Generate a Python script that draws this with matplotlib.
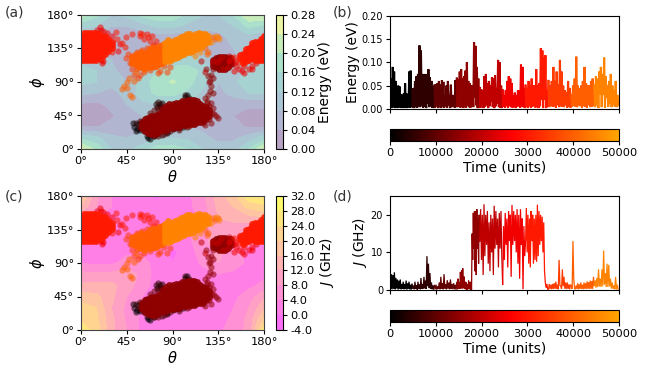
import numpy as np
import matplotlib
matplotlib.use("Agg")
import matplotlib.pyplot as plt
from matplotlib.colors import LinearSegmentedColormap, Normalize, to_rgb
from matplotlib.cm import ScalarMappable

W, H = 667, 377
theta_grid = [0, 15, 30, 45, 60, 75, 90, 105, 120, 135, 150, 165, 180]
phi_grid = [0, 15, 30, 45, 60, 75, 90, 105, 120, 135, 150, 165, 180]
energy_grid = [
    [.25, .19, .12, .11, .14, .18, .18, .16, .12, .10, .10, .16, .24],
    [.15, .13, .09, .08, .09, .11, .12, .11, .09, .07, .07, .10, .14],
    [.04, .038, .05, .06, .07, .08, .09, .08, .07, .05, .05, .035, .035],
    [.03, .025, .035, .06, .08, .09, .09, .09, .07, .05, .04, .02, .02],
    [.035, .03, .05, .08, .11, .12, .13, .11, .09, .06, .06, .05, .05],
    [.09, .08, .07, .09, .14, .17, .17, .15, .11, .07, .09, .12, .12],
    [.13, .12, .09, .08, .14, .18, .205, .18, .13, .08, .11, .15, .15],
    [.13, .12, .09, .06, .10, .16, .18, .18, .15, .08, .09, .13, .14],
    [.11, .10, .08, .05, .07, .11, .13, .14, .12, .07, .07, .10, .11],
    [.08, .07, .07, .05, .05, .06, .07, .07, .06, .06, .08, .09, .09],
    [.08, .07, .05, .05, .05, .05, .05, .05, .06, .07, .09, .10, .09],
    [.13, .12, .08, .08, .10, .13, .13, .11, .09, .09, .12, .17, .15],
    [.22, .17, .12, .13, .17, .19, .19, .15, .12, .12, .16, .24, .24],
]
j_grid = [
    [27, 22, 13, 8, 3, 2, 2, 2, 2, 3, 6, 9, 26],
    [23, 21, 13, 7, 3, 1, 1, 1, 1, 2, 5, 9, 20],
    [22, 20, 12, 7, 3, 1, 1, 1, 1, 2, 4, 8, 15],
    [18, 17, 13, 8, 4, 1, 1, 1, 1, 1, 3, 6, 11],
    [13, 13, 13, 10, 6, 2, 1, 1, 1, 2, 3, 3, 5],
    [9, 9, 9, 10, 7, 2, 1, 1, 2, 4, 3, 2, 3],
    [4, 3, 3, 6, 6, 2, 0, 1, 5, 8, 6, 3, 3],
    [2, 2, 2, 3, 3, 2, -1, 2, 6, 9, 6, 3, 2],
    [3, 2, 2, 2, 2, 2, 2, 3, 7, 10, 7, 5, 5],
    [3, 3, 3, 3, 3, 3, 3, 3, 6, 11, 10, 9, 9],
    [6, 4, 3, 2, 2, 2, 2, 2, 5, 12, 13, 14, 15],
    [15, 8, 4, 2, 2, 2, 2, 3, 6, 13, 16, 21, 23],
    [21, 9, 4, 2, 1, -1, 2, 3, 7, 14, 19, 27, 27],
]
energy_levels = [0, .04, .08, .12, .16, .20, .24, .28]
j_levels = [-4, 0, 4, 8, 12, 16, 20, 24, 28, 32]

seg_edges = [0, 4800, 9700, 14600, 19600, 24600, 29600, 34600, 39600, 44600, 50000]
seg_color_times = [0, 5000, 10000, 15000, 20000, 25000, 30000, 35000, 40000, 45000]

points_0 = [(51,35),(52,30),(55,27),(58,25),(56,33),(60,30),(63,28),(66,15),(68,14),(65,18),(72,17),(60,35),(54,24),
            (78,60),(75,57),(104,73),(108,66),(102,70),(90,27),(100,30),(96,28),(85,23)]
points_1 = [(54,35),(58,38),(62,36),(66,32),(70,40),(74,60),(78,57),(80,62),(102,72),(106,68),(110,66),
            (75,20),(80,19),(85,22),(92,28),(62,24),(68,20),(58,28),(76,63)]
points_2 = [(58,30),(62,33),(66,38),(70,42),(74,45),(68,48),(72,52),(76,54),(80,56),(64,42),(72,18),(76,17),(82,20),
            (88,24),(96,26),(104,30),(112,33)]
points_3 = [(126,58),(130,55),(122,32),(128,35),(135,42),(131,47),(126,40),(120,35),(106,31),(124,64),(128,62),
            (133,44),(129,49),(122,68),(127,78),(125,72),(130,75),(128,84),(126,90),(130,95),(128,100),(125,98),
            (123,108),(130,108),(127,92),(124,62)]
points_4 = [(130,118),(136,119),(145,110),(140,107),(150,115),(139,124),(146,125),(134,117),(118,118),(122,104)]
points_5 = [(19,164),(20,160),(16,160),(22,158),(21,115),(22,118),(20,120),(26,156),(30,152),(160,102),(150,105),
            (165,108),(155,108),(152,112),(160,112),(168,112),(152,118),(158,105),(146,118),(168,108),(172,116),(38,141),
            (36,132)]
points_6 = [(34,157),(40,142),(43,137),(44,150),(50,155),(60,155),(65,155),(70,152),(74,145),(62,148),(68,145),
            (66,150),(58,152),(72,140),(150,123),(155,117),(35,148),(30,130),(58,156)]
points_7 = [(44,122),(46,128),(50,125),(55,130),(60,133),(65,136),(70,138),(55,108),(58,100),(62,104),(52,100),
            (50,108),(56,95),(78,105),(85,103),(72,110),(82,112),(88,110),(76,102),(48,115),(68,106)]
points_8 = [(40,80),(42,85),(45,82),(45,90),(47,95),(52,92),(48,72),(50,70),(54,103),(130,150),(135,150),(132,148),
            (125,130),(124,128),(122,135)]
points_9 = [(133,152),(136,148),(128,144),(112,125),(117,130)]

core_3 = [(60,[28,32,36]), (63,[24,28,32,36,40]), (66,[22,26,30,34,38,42]), (69,[20,24,28,32,36,40,44]),
          (72,[20,24,28,32,36,40,44]), (75,[22,26,30,34,38,42,46]), (78,[24,28,32,36,40,44,48]),
          (81,[26,30,34,38,42,46,50,54]), (84,[26,30,34,38,42,46,50,54,58]), (87,[28,32,36,40,44,48,52,56,60]),
          (90,[28,32,36,40,44,48,52,56,60]), (93,[30,34,38,42,46,50,54,58,62]), (96,[30,34,38,42,46,50,54,58,62]),
          (99,[32,36,40,44,48,52,56,60,64]), (102,[32,36,40,44,48,52,56,60,64]), (105,[34,38,42,46,50,54,58,62,66]),
          (108,[34,38,42,46,50,54,58,62,66]), (111,[34,38,42,46,50,54,58,62,66]), (114,[36,40,44,48,52,56,60,64]),
          (117,[36,40,44,48,52,56,60]), (120,[38,42,46,50,54,58]), (123,[40,44,48,52,56]), (126,[44,48,52]),
          (130,[112,116,120]), (133,[110,114,118,122]), (136,[108,112,116,120,124]), (139,[108,112,116,120,124]),
          (142,[108,112,116,120,124]), (145,[110,114,118,122]), (148,[114,118,122])]
core_6 = [(0,[120,124,128,132,136,140,144,148,152]), (3,[120,124,128,132,136,140,144,148,152,156]),
          (6,[120,124,128,132,136,140,144,148,152,156]), (9,[120,124,128,132,136,140,144,148,152,156]),
          (12,[120,124,128,132,136,140,144,148,152,156]), (15,[120,124,128,132,136,140,144,148,152,156]),
          (18,[122,126,130,134,138,142,146,150,154]), (21,[124,128,132,136,140,144,148,152]),
          (24,[128,132,136,140,144,148,152]), (27,[132,136,140,144,148]), (30,[136,140,144]),
          (180,[120,124,128,132,136,140,144,148,152]), (177,[120,124,128,132,136,140,144,148]),
          (174,[120,124,128,132,136,140,144]), (171,[120,124,128,132,136,140,144]), (168,[122,126,130,134,138,142]),
          (165,[120,124,128,132,136]), (162,[118,122,126,130,134]), (159,[116,120,124,128]), (156,[122,126])]
core_8 = [(50,[116,120,124]), (53,[114,118,122,126]), (56,[112,116,120,124,128]), (59,[110,114,118,122,126,130]),
          (62,[108,112,116,120,124,128]), (65,[110,114,118,122,126,130]), (68,[110,114,118,122,126,130,134]),
          (71,[112,116,120,124,128,132,136]), (74,[112,116,120,124,128,132,136]), (77,[114,118,122,126,130,134,138]),
          (80,[116,120,124,128,132,136,140])]
core_9 = [(83,[118,122,126,130,134,138,142]), (86,[118,122,126,130,134,138,142,146]),
          (89,[120,124,128,132,136,140,144]), (92,[122,126,130,134,138,142,146]),
          (95,[124,128,132,136,140,144,148]), (98,[126,130,134,138,142,146,150]),
          (101,[128,132,136,140,144,148,152]), (104,[130,134,138,142,146,150,154]),
          (107,[130,134,138,142,146,150,154]), (110,[132,136,140,144,148,152]), (113,[134,138,142,146,150,154]),
          (116,[136,140,144,148,152,156]), (119,[138,142,146,150,154]), (122,[142,146,150,154]), (125,[144,148,152])]

energy_0 = [.06,.004,.065,.002,.09,.005,.08,.002,.06,.004,.045,.002,.05,.006,.048,.003,.032,.002,.03,.012,.033,.002,.055,.004,.033,.002,.032,.004,.08,.003,.082,.004]
energy_1 = [.04,.003,.045,.002,.06,.005,.07,.003,.075,.006,.136,.004,.125,.008,.075,.003,.06,.005,.075,.002,.06,.012,.085,.004,.068,.006,.06,.003,.048,.002]
energy_2 = [.05,.003,.053,.006,.055,.002,.06,.004,.052,.002,.062,.005,.058,.003,.03,.006,.05,.003,.06,.008,.03,.002,.052,.004,.03,.006,.03,.003,.062,.004]
energy_3 = [.065,.004,.063,.008,.08,.003,.085,.006,.065,.002,.07,.006,.082,.003,.1,.008,.06,.004,.055,.003,.05,.02,.05,.004,.143,.025,.135,.008,.09,.002,.065,.002]
energy_4 = [.045,.003,.042,.008,.04,.002,.07,.005,.075,.008,.055,.002,.06,.006,.05,.015,.068,.004,.065,.002,.072,.006,.045,.012,.105,.004,.1,.003,.05,.002]
energy_5 = [.04,.005,.03,.003,.04,.006,.06,.002,.07,.006,.065,.004,.055,.003,.03,.006,.035,.002,.03,.005,.04,.006,.04,.003,.095,.006,.09,.004,.045,.002]
energy_6 = [.05,.005,.045,.002,.06,.006,.05,.003,.065,.005,.05,.008,.05,.003,.085,.005,.05,.002,.055,.006,.13,.02,.125,.002,.11,.02,.115,.002,.04,.005]
energy_7 = [.06,.004,.05,.008,.06,.005,.09,.006,.06,.003,.08,.008,.052,.004,.105,.006,.08,.005,.05,.004,.04,.008,.035,.003,.06,.005,.045,.003]
energy_8 = [.03,.005,.05,.007,.065,.005,.112,.004,.05,.008,.045,.006,.05,.003,.06,.006,.09,.005,.055,.003,.05,.008,.05,.004,.06,.005,.065,.006]
energy_9 = [.05,.004,.07,.008,.065,.002,.08,.03,.09,.004,.075,.03,.11,.003,.07,.025,.05,.005,.06,.012,.075,.004,.05,.008,.04,.005,.06,.004,.03,.008]

j_0 = [6.5,.3,4.2,.2,4,.3,4.7,.2,3.2,.4,2.8,.1,2.5,.3,2.8,.2,1.6,.3,2.2,.2,1.6,.3,2.5,.1,1.8,.3,2.2,.2,1.4,.1]
j_1 = [1.5,.3,1.2,.2,2.2,.3,1.3,.1,2.2,.3,1.5,.2,3.2,.3,1.6,.4,3.5,.4,2.5,.3,9,1,7,.5,4.5,.3,2,.2,1.2,.1]
j_2 = [1.2,.2,1.4,.1,1,.3,2,.2,3.5,.3,1.8,.2,4.2,.4,1.5,.2,2.6,.3,2,.2,2.8,.3,1.6,.2,1.8,.2,1.4,.1]
j_3 = [2,.2,3,.3,2,.3,4.8,.5,5.2,.4,5.8,.5,3.6,.3,2.2,.2,2,.1,1.6,.2,2.5,.3,2,.1,2.2,.1,15,8,20.5,11,21,5,21,4,21.5,11,19,7,20]
j_4 = [13,21.5,8,20,4,22.8,9,20,12,21,7,18,5,20,10,19,4,22.4,11,21,12,19,6,20.5,11,21,9]
j_5 = [1.5,17,8,20.5,12,19,6,21,13,20,3.5,22.6,12,21,13,20,10,21.5,7,20,3,21.5,12,19,.2,17,9]
j_6 = [13,21.8,10,20,7,19,6,21,13,20,7,19,8,20,7.5,22.7,9,21,12,20,13,19.5,10,18,5,2,.6,1.6,.2]
j_7 = [.2,1.6,.3,1.4,.2,1.6,.3,1.8,.3,2.2,.3,1.4,.2,8,1.2,1,.3,5.5,1,3.5,.3,2,.3,2,.3,1.5,.2,1.4]
j_8 = [1.2,.3,13,3,.6,.2,1.2,.3,1.8,.2,1.5,.3,2,.3,1.4,.2,2,.3,1.8,.3,2.3,.3,2.1,.3,2.5,.3,2.4,.3,3.5]
j_9 = [1.2,2.6,.6,3.2,.8,5.5,1,3,.8,5.5,1,10.5,1.5,4.5,.8,7,.8,6.7,1,3,.4,2,.3,1.2,.2,3.5,.2,1.4,.2]

time_ticks = [0, 10000, 20000, 30000, 40000, 50000]
time_ticklabels = ["0", "10000", "20000", "3000", "40000", "50000"]
angle_ticks = [0, 45, 90, 135, 180]
angle_ticklabels = ["0°", "45°", "90°", "135°", "180°"]
energy_ticks = [0, .05, .10, .15, .20]
j_ticks = [0, 10, 20]

time_cmap = LinearSegmentedColormap.from_list("t", [(0, "black"), (.53, "red"), (1, "orange")])
time_norm = Normalize(0, 50000)
all_points = [points_0, points_1, points_2, points_3, points_4, points_5, points_6, points_7, points_8, points_9]
all_cores = [[], [], [], core_3, [], [], core_6, [], core_8, core_9]
all_energy = [energy_0, energy_1, energy_2, energy_3, energy_4, energy_5, energy_6, energy_7, energy_8, energy_9]
all_j = [j_0, j_1, j_2, j_3, j_4, j_5, j_6, j_7, j_8, j_9]


def box(x0, y0, x1, y1):
    return [x0 / W, 1 - y1 / H, (x1 - x0) / W, (y1 - y0) / H]


fig = plt.figure(figsize=(W / 100, H / 100), dpi=100)


def blended(cmap_name, levels, alpha):
    cmap = plt.get_cmap(cmap_name)
    lo, hi = levels[0], levels[-1]
    out = []
    for a, b in zip(levels[:-1], levels[1:]):
        rgb = np.array(to_rgb(cmap(((a + b) / 2 - lo) / (hi - lo))))
        out.append(tuple(alpha * rgb + (1 - alpha)))
    return out


def map_panel(y0, y1, grid, levels, cmap, alpha, label, fmt):
    ax = fig.add_axes(box(81, y0, 264, y1))
    cs = ax.contourf(theta_grid, phi_grid, grid, levels=levels, colors=blended(cmap, levels, alpha))
    for pts, core, t in zip(all_points, all_cores, seg_color_times):
        c = time_cmap(time_norm(t))
        ax.scatter([p[0] for p in pts], [p[1] for p in pts], s=20, color=c, alpha=0.55, linewidths=0)
        if core:
            xs, ys = [], []
            for th, phis in core:
                xs += [th] * len(phis)
                ys += phis
            ax.scatter(xs, ys, s=24, color=c, alpha=0.9, linewidths=0)
    ax.set_xlim(0, 180)
    ax.set_ylim(0, 180)
    ax.set_xticks(angle_ticks, angle_ticklabels, fontsize=8.2)
    ax.set_yticks(angle_ticks, angle_ticklabels, fontsize=8.2)
    ax.tick_params(pad=2, length=3)
    ax.set_xlabel(r"$\theta$", fontsize=10.5, labelpad=2)
    ax.set_ylabel(r"$\phi$", fontsize=10.5, labelpad=0)
    for s in ax.spines.values():
        s.set_edgecolor("#444444")
    cax = fig.add_axes(box(276, y0, 283, y1))
    cb = fig.colorbar(cs, cax=cax, ticks=levels)
    cb.ax.set_yticklabels([fmt % v for v in levels], fontsize=8.2)
    cb.ax.tick_params(pad=2, length=3)
    cb.set_label(label, fontsize=10, labelpad=2)


def series_panel(y0, y1, series, ylim, yticks, ytickfmt, ylabel, lw, cb_y0, cb_y1):
    ax = fig.add_axes(box(390, y0, 619, y1))
    for k, vals in enumerate(series):
        n = len(vals)
        t = seg_edges[k] + (seg_edges[k + 1] - seg_edges[k]) * np.arange(n) / n
        yv = list(vals)
        if k < len(series) - 1:
            t = np.append(t, seg_edges[k + 1])
            yv.append(series[k + 1][0])
        ax.plot(t, yv, color=time_cmap(time_norm(seg_color_times[k])), lw=lw, solid_joinstyle="miter")
    ax.set_xlim(0, 50000)
    ax.set_ylim(*ylim)
    ax.set_xticks(time_ticks, [])
    ax.set_yticks(yticks, [ytickfmt % v for v in yticks], fontsize=7)
    ax.tick_params(pad=2, length=3)
    ax.set_ylabel(ylabel, fontsize=10, labelpad=1)
    cax = fig.add_axes(box(390, cb_y0, 619, cb_y1))
    cb = fig.colorbar(ScalarMappable(norm=time_norm, cmap=time_cmap), cax=cax, orientation="horizontal")
    cb.set_ticks(time_ticks, labels=time_ticklabels, fontsize=8.2)
    cb.ax.tick_params(pad=2, length=3)
    cb.set_label("Time (units)", fontsize=10, labelpad=2)


map_panel(15, 149, energy_grid, energy_levels, "viridis", 0.4, "Energy (eV)", "%.2f")
map_panel(196, 330, j_grid, j_levels, "spring", 0.6, r"$J$ (GHz)", "%.1f")
series_panel(15.5, 109, all_energy, (0, .20), energy_ticks, "%.2f", "Energy (eV)", 1.5, 129, 141)
series_panel(196, 290, all_j, (0, 25), j_ticks, "%d", r"$J$ (GHz)", 0.9, 310, 322)

for s, x, y in [("(a)", 5, 12), ("(b)", 333, 12), ("(c)", 5, 197), ("(d)", 333, 197)]:
    fig.text(x / W, 1 - y / H, s, fontsize=10, color="#333333", va="center", ha="left")

fig.savefig("out.png", dpi=100)
